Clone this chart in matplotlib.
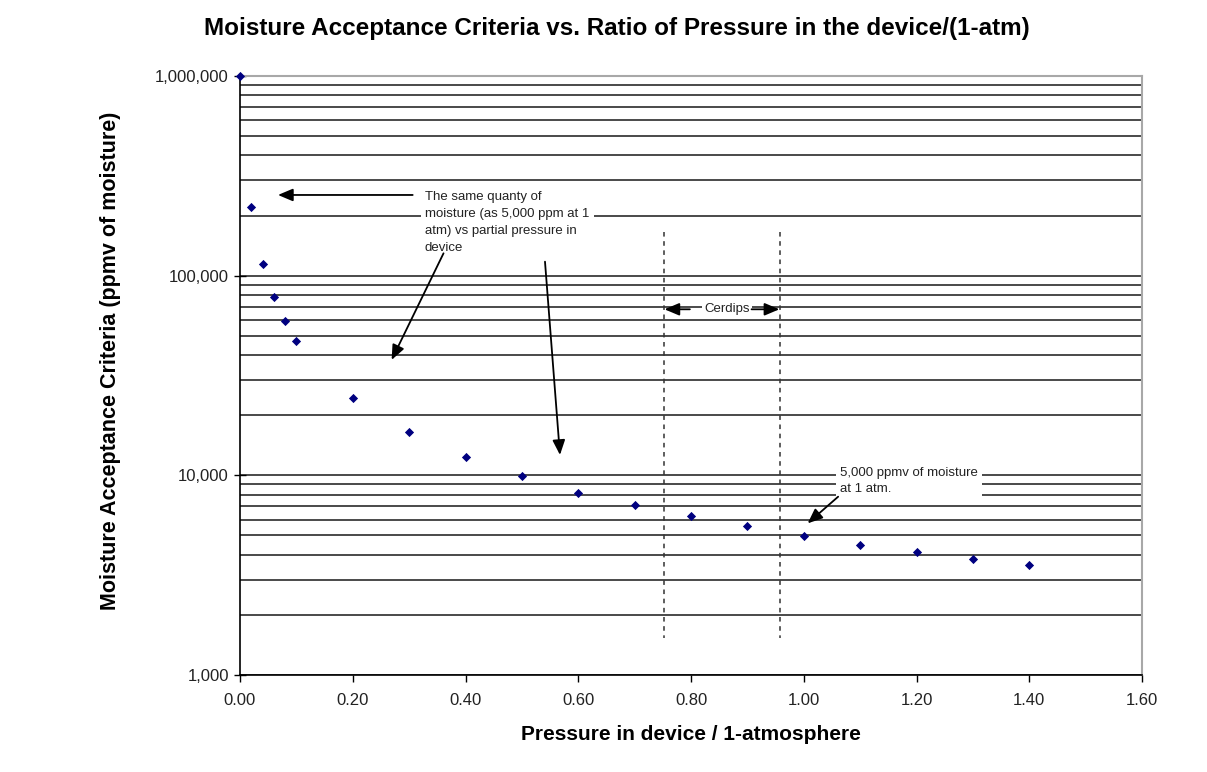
import matplotlib
matplotlib.use("Agg")
import matplotlib.pyplot as plt
from matplotlib.ticker import FixedLocator, FuncFormatter, LogLocator, NullFormatter

plt.rcParams['font.family'] = ['Liberation Sans', 'DejaVu Sans']

# Data
pressure_ratio = [0.0, 0.02, 0.04, 0.06, 0.08, 0.10, 0.20, 0.30, 0.40, 0.50,
                  0.60, 0.70, 0.80, 0.90, 1.00, 1.10, 1.20, 1.30, 1.40]
moisture_ppmv = [1000000, 221000, 115000, 78000, 59000, 47000, 24500, 16500,
                 12300, 9900, 8200, 7100, 6250, 5560, 4950, 4500, 4150, 3820, 3550]

x_ticks = [0.0, 0.2, 0.4, 0.6, 0.8, 1.0, 1.2, 1.4, 1.6]
y_ticks = [1000, 10000, 100000, 1000000]

cerdip_bounds = [0.752, 0.958]

title = "Moisture Acceptance Criteria vs. Ratio of Pressure in the device/(1-atm)"
xlabel = "Pressure in device / 1-atmosphere"
ylabel = "Moisture Acceptance Criteria (ppmv of moisture)"
note_same = "The same quanty of\nmoisture (as 5,000 ppm at 1\natm) vs partial pressure in\ndevice"
note_5000 = "5,000 ppmv of moisture\nat 1 atm."
note_cerdips = "Cerdips"

fig = plt.figure(figsize=(12.07, 7.72), dpi=100)
ax = fig.add_axes([240/1207, 1-675/772, (1142-240)/1207, (675-76)/772])

ax.set_yscale('log')
ax.set_xlim(0, 1.6)
ax.set_ylim(1000, 1000000)

ax.scatter(pressure_ratio, moisture_ppmv, marker='D', s=22, color='#000080',
           zorder=5, clip_on=False, linewidths=0)

# Axes / ticks
ax.xaxis.set_major_locator(FixedLocator(x_ticks))
ax.xaxis.set_major_formatter(FuncFormatter(lambda v, p: f"{v:.2f}"))
ax.yaxis.set_major_locator(FixedLocator(y_ticks))
ax.yaxis.set_major_formatter(FuncFormatter(lambda v, p: f"{int(round(v)):,}"))
ax.yaxis.set_minor_locator(LogLocator(base=10, subs=range(2, 10)))
ax.yaxis.set_minor_formatter(NullFormatter())
ax.tick_params(axis='x', which='major', direction='out', length=5, width=1,
               labelsize=12, labelcolor='#222222', pad=8)
ax.tick_params(axis='y', which='major', direction='inout', length=8, width=1,
               labelsize=12, labelcolor='#222222', pad=4)
ax.tick_params(axis='y', which='minor', length=0)

ax.set_axisbelow(True)
ax.yaxis.grid(True, which='both', color='#3c3c3c', linewidth=1.3)
ax.xaxis.grid(False)

for side in ('left', 'bottom'):
    ax.spines[side].set_color('black')
    ax.spines[side].set_linewidth(1.2)
for side in ('top', 'right'):
    ax.spines[side].set_color('#a8a8a8')
    ax.spines[side].set_linewidth(1.5)

ax.set_xlabel(xlabel, fontsize=15, fontweight='bold', labelpad=12)
ax.set_ylabel(ylabel, fontsize=15.5, fontweight='bold')
ax.yaxis.set_label_coords(-0.132, 0.524)
fig.text(0.5108, 1-28/772, title, fontsize=17.5, fontweight='bold',
         ha='center', va='center')

# Cerdips region
for xb in cerdip_bounds:
    ax.plot([xb, xb], [165000, 1530], linestyle=(0, (3, 3)), color='#333333',
            linewidth=1.1, zorder=3)
arrow_kw = dict(arrowstyle='-|>,head_length=0.9,head_width=0.38', color='black',
                lw=1.3, shrinkA=0, shrinkB=0)
ax.text(0.8634, 67850, note_cerdips, fontsize=9.5, ha='center', va='center',
        color='#222222', zorder=6,
        bbox=dict(facecolor='white', edgecolor='none', pad=1.5))
ax.annotate('', xy=(0.753, 67850), xytext=(0.798, 67850), arrowprops=arrow_kw, zorder=6)
ax.annotate('', xy=(0.9567, 67850), xytext=(0.9074, 67850), arrowprops=arrow_kw, zorder=6)

# Annotation: same quantity
ax.text(0.3281, 265600, note_same, fontsize=9.5, ha='left', va='top',
        color='#222222', linespacing=1.55, zorder=6,
        bbox=dict(facecolor='white', edgecolor='none', pad=3))
ax.annotate('', xy=(0.0674, 253600), xytext=(0.3063, 253600), arrowprops=arrow_kw, zorder=6)
ax.annotate('', xy=(0.269, 37860), xytext=(0.361, 129400), arrowprops=arrow_kw, zorder=6)
ax.annotate('', xy=(0.5676, 12650), xytext=(0.541, 117500), arrowprops=arrow_kw, zorder=6)

# Annotation: 5,000 ppmv
ax.text(1.0643, 11010, note_5000, fontsize=9.5, ha='left', va='top',
        color='#222222', linespacing=1.5, zorder=6,
        bbox=dict(facecolor='white', edgecolor='none', pad=3))
ax.annotate('', xy=(1.007, 5750), xytext=(1.061, 7816), arrowprops=arrow_kw, zorder=6)

fig.savefig('out.png', dpi=100, facecolor='white')
